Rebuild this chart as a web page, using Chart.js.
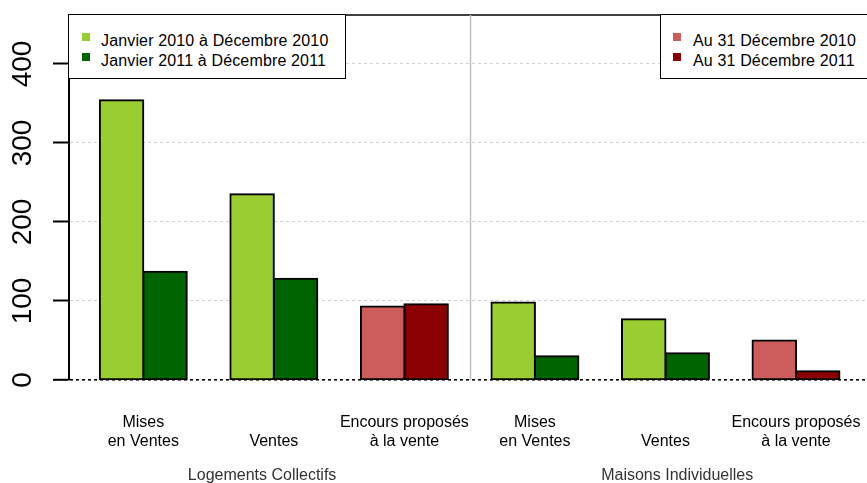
<!DOCTYPE html>
<html>
<head>
<meta charset="utf-8">
<script src="https://cdn.jsdelivr.net/npm/chart.js@4.4.1/dist/chart.umd.min.js"></script>
<style>
  html, body { margin: 0; padding: 0; background: #fff; overflow: hidden; }
  #wrap { position: relative; width: 867px; height: 483px; }
  .box { position: absolute; top: 14px; height: 65px; box-sizing: border-box; border: 1.5px solid #000; background: #fff; }
  .sw { position: absolute; width: 8px; height: 8px; }
  .lbl { position: absolute; font: 16px "Liberation Sans", Arial, sans-serif; line-height: 20px; color: #000; white-space: nowrap; letter-spacing: 0.15px; }
</style>
</head>
<body>
<div id="wrap">
  <canvas id="chart" width="867" height="483"></canvas>
</div>
<script>
// données
const categories = [
    ['Mises', 'en Ventes'], ['', 'Ventes'], ['Encours proposés', 'à la vente'],
    ['Mises', 'en Ventes'], ['', 'Ventes'], ['Encours proposés', 'à la vente']
];
const values2010 = [354, 235, 93, 98, 77, 50];
const values2011 = [137, 128, 96, 30, 34, 11];
const colors2010 = ['#9ACD32', '#9ACD32', '#CD5C5C', '#9ACD32', '#9ACD32', '#CD5C5C'];
const colors2011 = ['#006400', '#006400', '#8B0000', '#006400', '#006400', '#8B0000'];
const yTicks = [0, 100, 200, 300, 400];
const groupTitles = ['Logements Collectifs', 'Maisons Individuelles'];
const groupCenters = [0.91, 4.09];
const legendLeft = ['Janvier 2010 à Décembre 2010', 'Janvier 2011 à Décembre 2011'];
const legendLeftColors = ['#9ACD32', '#006400'];
const legendRight = ['Au 31 Décembre 2010', 'Au 31 Décembre 2011'];
const legendRightColors = ['#CD5C5C', '#8B0000'];

const FONT = '"Liberation Sans", Arial, sans-serif';
Chart.defaults.font.family = FONT;

// 1. Légendes (deux cadres séparés)
const wrap = document.getElementById('wrap');
function addLegend(left, width, swX, txtX, labels, colors) {
    const box = document.createElement('div');
    box.className = 'box';
    box.style.left = left + 'px';
    box.style.width = width + 'px';
    wrap.appendChild(box);
    labels.forEach((t, i) => {
        const sw = document.createElement('div');
        sw.className = 'sw';
        sw.style.left = swX + 'px';
        sw.style.top = (33 + 20 * i) + 'px';
        sw.style.background = colors[i];
        wrap.appendChild(sw);
        const lb = document.createElement('div');
        lb.className = 'lbl';
        lb.style.left = txtX + 'px';
        lb.style.top = (30.5 + 20 * i) + 'px';
        lb.textContent = t;
        wrap.appendChild(lb);
    });
}
addLegend(68, 278, 82, 101, legendLeft, legendLeftColors);
addLegend(660, 220, 673, 693, legendRight, legendRightColors);

// 2. Cadre, séparateur et titres de groupes
const decorations = {
    id: 'decorations',
    afterDraw(chart) {
        const { ctx, chartArea: a, scales: { x } } = chart;
        ctx.save();
        ctx.strokeStyle = '#000';
        ctx.lineWidth = 1.5;
        ctx.beginPath();
        ctx.moveTo(a.left, a.top);
        ctx.lineTo(a.right, a.top);
        ctx.stroke();

        const sx = Math.round(x.getPixelForValue(2.5)) + 0.5;
        ctx.strokeStyle = '#c0c0c0';
        ctx.lineWidth = 1.5;
        ctx.beginPath();
        ctx.moveTo(sx, a.top);
        ctx.lineTo(sx, a.bottom);
        ctx.stroke();

        ctx.font = '16px ' + FONT;
        ctx.fillStyle = '#333';
        ctx.textAlign = 'center';
        ctx.textBaseline = 'alphabetic';
        groupTitles.forEach((t, i) => ctx.fillText(t, x.getPixelForValue(groupCenters[i]), 480));
        ctx.restore();
    }
};

const ctx = document.getElementById('chart').getContext('2d');
new Chart(ctx, {
    type: 'bar',
    data: {
        datasets: [
            {
                label: '2010',
                data: values2010.map((v, i) => ({ x: i, y: v })),
                backgroundColor: colors2010,
                borderColor: '#000',
                borderWidth: 2,
                borderSkipped: false,
                inflateAmount: 1
            },
            {
                label: '2011',
                data: values2011.map((v, i) => ({ x: i, y: v })),
                backgroundColor: colors2011,
                borderColor: '#000',
                borderWidth: 2,
                borderSkipped: false,
                inflateAmount: 1
            }
        ]
    },
    options: {
        responsive: false,
        animation: false,
        categoryPercentage: 0.666,
        barPercentage: 1,
        layout: { padding: { top: 15, left: 0, right: 0, bottom: 0 } },
        plugins: {
            legend: { display: false },
            tooltip: { enabled: false }
        },
        scales: {
            x: {
                type: 'linear',
                min: -0.5692,
                max: 5.5439,
                offset: false,
                afterBuildTicks: s => { s.ticks = categories.map((c, i) => ({ value: i })); },
                afterFit: s => { s.height = 103; s.paddingLeft = 0; s.paddingRight = 0; },
                grid: { display: false, drawTicks: false },
                border: { display: false },
                ticks: {
                    autoSkip: false,
                    minRotation: 0,
                    maxRotation: 0,
                    padding: 33,
                    color: '#000',
                    font: { size: 16, lineHeight: 1.2 },
                    callback: v => categories[v]
                }
            },
            y: {
                min: 0,
                max: 462,
                afterBuildTicks: s => { s.ticks = yTicks.map(v => ({ value: v })); },
                afterFit: s => { s.width = 69; s.paddingTop = 0; s.paddingBottom = 0; },
                border: { display: true, color: '#000', width: 2, dash: [3, 3] },
                grid: {
                    color: c => (c.tick && c.tick.value === 0) ? '#000' : '#d0d0d0',
                    lineWidth: c => (c.tick && c.tick.value === 0) ? 1.6 : 1,
                    tickColor: '#000',
                    tickWidth: 2,
                    tickLength: 16
                },
                ticks: {
                    minRotation: 90,
                    maxRotation: 90,
                    crossAlign: 'center',
                    padding: 6,
                    color: '#000',
                    font: { size: 28 }
                }
            }
        }
    },
    plugins: [decorations]
});
</script>
</body>
</html>
